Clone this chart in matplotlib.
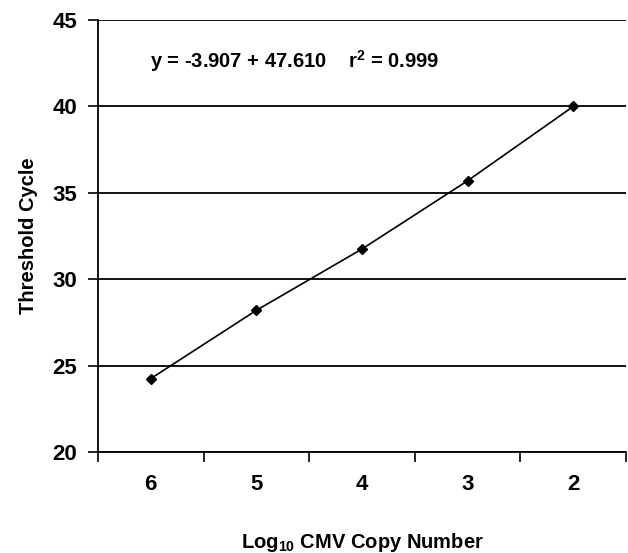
import numpy as np
import matplotlib
matplotlib.use('Agg')
import matplotlib.pyplot as plt

plt.rcParams['font.family'] = ['Liberation Sans', 'DejaVu Sans']
plt.rcParams['font.weight'] = 'bold'
plt.rcParams['mathtext.fontset'] = 'custom'
plt.rcParams['mathtext.rm'] = 'Liberation Sans:bold'
plt.rcParams['mathtext.bf'] = 'Liberation Sans:bold'
plt.rcParams['mathtext.it'] = 'Liberation Sans:bold'

log_copies = ['6', '5', '4', '3', '2']
threshold_cycle = [24.25, 28.2, 31.75, 35.7, 40.0]
equation = 'y = -3.907 + 47.610    r$^{2}$ = 0.999'

fig = plt.figure(figsize=(6.28, 5.53), dpi=100)
ax = fig.add_axes([0.156, 0.1826, 0.841, 0.7812])

x = np.arange(len(log_copies))
ax.plot(x, threshold_cycle, color='black', lw=1.2, marker='D', ms=5, zorder=3)

ax.set_xlim(-0.5, len(log_copies) - 0.5)
ax.set_ylim(20, 45)
ax.set_yticks([20, 25, 30, 35, 40, 45])
ax.yaxis.grid(True, color='black', lw=1.3)
ax.set_axisbelow(True)

ax.set_xticks(np.arange(-0.5, len(log_copies)), labels=[])
ax.set_xticks(x, labels=log_copies, minor=True)
ax.tick_params(axis='x', which='major', direction='out', length=7, width=1.2)
ax.tick_params(axis='x', which='minor', length=0, pad=16, labelsize=16)
ax.tick_params(axis='y', direction='out', length=7, width=1.2, labelsize=16, pad=8)

for s in ['top', 'right']:
    ax.spines[s].set_visible(False)
for s in ['left', 'bottom']:
    ax.spines[s].set_linewidth(1.3)

ax.text(-0.01, 42.6, equation, fontsize=14.5, fontweight='bold', ha='left', va='center')

ax.set_ylabel('Threshold Cycle', fontsize=14.5, fontweight='bold', labelpad=10)
ax.set_xlabel('Log$_{10}$ CMV Copy Number', fontsize=14.5, fontweight='bold', labelpad=26)

fig.savefig('out.png', dpi=100)
